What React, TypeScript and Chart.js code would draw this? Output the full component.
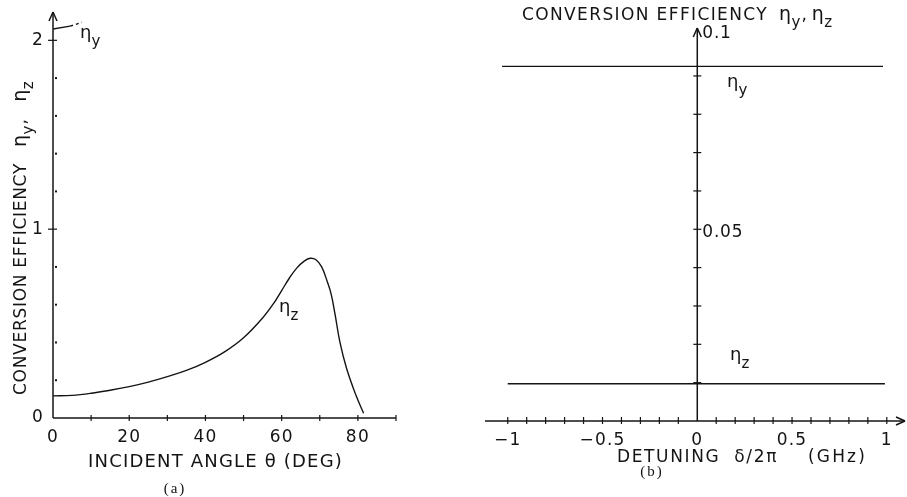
import React, { useEffect, useRef } from "react";
import { Chart, registerables } from "chart.js";

Chart.register(...registerables);

// ---------- Panel (a): conversion efficiency vs incident angle ----------
const incidentAngle = [0, 5, 10, 15, 20, 25, 30, 35, 40, 45, 50, 55, 58, 60, 62, 64, 66, 67.5, 69, 70.5, 72, 73, 74, 75.3, 77, 79.5, 81.5];
const etaZvsAngle = [0.117, 0.12, 0.131, 0.147, 0.166, 0.19, 0.219, 0.252, 0.295, 0.35, 0.425, 0.53, 0.61, 0.675, 0.74, 0.795, 0.832, 0.846, 0.838, 0.8, 0.72, 0.655, 0.55, 0.4, 0.265, 0.12, 0.025];
const etaYAngleSolid = [0, 4.5];
const etaYSolid = [2.06, 2.075];
const etaYAngleDotted = [4.5, 7.6];
const etaYDotted = [2.075, 2.095];
const angleTickLabels = [0, 20, 40, 60, 80];
const angleMinorTicks = [10, 20, 30, 40, 50, 60, 70, 80, 90];
const effTickLabels = [0, 1, 2];
const effMinorTicks = [0.2, 0.4, 0.6, 0.8, 1.2, 1.4, 1.6, 1.8];

// ---------- Panel (b): conversion efficiency vs detuning ----------
const detuningY = [-1.03, 0.98];
const etaYvsDetuning = [0.0925, 0.0925];
const detuningZ = [-1.0, 0.99];
const etaZvsDetuning = [0.0097, 0.0097];
const detuningTickValues = [-1, -0.5, 0, 0.5, 1];
const detuningTickLabels = ["\u22121", "\u22120.5", "0", "0.5", "1"];
const detuningMinorTicks = [-1, -0.9, -0.8, -0.7, -0.6, -0.5, -0.4, -0.3, -0.2, -0.1, 0.1, 0.2, 0.3, 0.4, 0.5, 0.6, 0.7, 0.8, 0.9, 1];
const effBTickValues = [0.05, 0.1];
const effBTickLabels = ["0.05", "0.1"];
const effBMinorTicks = [0.01, 0.02, 0.03, 0.04, 0.05, 0.06, 0.07, 0.08, 0.09];

const FONT = "'DejaVu Sans'";
const INK = "#141414";

type Seg = { t: string; size: number; dy?: number; family?: string; sp?: number };

function drawRich(ctx: CanvasRenderingContext2D, segs: Seg[], x: number, y: number, align: "left" | "center" | "right", spacing: number, fitWidth?: number) {
  ctx.save();
  ctx.fillStyle = INK;
  ctx.textAlign = "left";
  ctx.textBaseline = "alphabetic";
  const measure = (sp: number) => {
    const ws: number[] = [];
    let tot = 0;
    for (const s of segs) {
      ctx.font = `${s.size}px ${s.family ?? FONT}`;
      (ctx as any).letterSpacing = `${s.sp ?? sp}px`;
      const w = ctx.measureText(s.t).width;
      ws.push(w);
      tot += w;
    }
    return { ws, tot };
  };
  let sp = spacing;
  if (fitWidth !== undefined) {
    const base = measure(0);
    const n = segs.reduce((a, s) => a + s.t.length, 0);
    sp = Math.max(0, (fitWidth - base.tot) / n);
  }
  const { ws, tot } = measure(sp);
  let cx = align === "left" ? x : align === "center" ? x - tot / 2 : x - tot;
  segs.forEach((s, i) => {
    ctx.font = `${s.size}px ${s.family ?? FONT}`;
    (ctx as any).letterSpacing = `${s.sp ?? sp}px`;
    ctx.fillText(s.t, cx, y + (s.dy ?? 0));
    cx += ws[i];
  });
  ctx.restore();
}

function line(ctx: CanvasRenderingContext2D, x1: number, y1: number, x2: number, y2: number) {
  ctx.beginPath();
  ctx.moveTo(x1, y1);
  ctx.lineTo(x2, y2);
  ctx.stroke();
}

function label(ctx: CanvasRenderingContext2D, text: string, x: number, y: number, align: CanvasTextAlign, baseline: CanvasTextBaseline, size = 16, spacing = 1.2) {
  ctx.save();
  ctx.fillStyle = INK;
  ctx.font = `${size}px ${FONT}`;
  (ctx as any).letterSpacing = `${spacing}px`;
  ctx.textAlign = align;
  ctx.textBaseline = baseline;
  ctx.fillText(text, x, y);
  ctx.restore();
}

const eta = (sub: string): Seg[] => [
  { t: "\u03b7", size: 18 },
  { t: sub, size: 15, dy: 8 },
];

const etaPair = (sep: string, gap: number): Seg[] => [
  { t: "\u03b7", size: 19, sp: 0.5 },
  { t: "y", size: 15, dy: 7, sp: 1 },
  { t: sep, size: 17, sp: gap },
  { t: "\u03b7", size: 19, sp: 0.5 },
  { t: "z", size: 15, dy: 7, sp: 1 },
];

const leftDecor = {
  id: "leftDecor",
  afterDatasetsDraw(chart: any) {
    const { ctx, scales } = chart;
    const x = scales.x, y = scales.y;
    const x0 = x.getPixelForValue(0);
    const y0 = y.getPixelForValue(0);
    ctx.save();
    ctx.strokeStyle = INK;
    ctx.lineWidth = 1.5;
    line(ctx, x0, y0, x.getPixelForValue(90), y0);
    line(ctx, x0, y0, x0, y.top);
    line(ctx, x0, y.top, x0 - 4, y.top + 9);
    line(ctx, x0, y.top, x0 + 4, y.top + 9);
    ctx.lineWidth = 1.2;
    for (const v of angleMinorTicks) {
      const px = x.getPixelForValue(v);
      line(ctx, px, y0 - 3, px, y0 + 3);
    }
    for (const v of effTickLabels) {
      if (v === 0) continue;
      const py = y.getPixelForValue(v);
      line(ctx, x0 - 5, py, x0 + 4, py);
    }
    ctx.fillStyle = INK;
    for (const v of effMinorTicks) {
      const py = y.getPixelForValue(v);
      ctx.fillRect(x0 + 2, py - 1, 2, 2);
    }
    ctx.restore();
    for (const v of angleTickLabels) {
      label(ctx, String(v), x.getPixelForValue(v), 442, "center", "alphabetic", 17);
    }
    for (const v of effTickLabels) {
      label(ctx, String(v), x0 - 9, y.getPixelForValue(v), "right", "middle", 17);
    }
    drawRich(ctx, eta("y"), 80, 38, "left", 0);
    drawRich(ctx, eta("z"), 279, 312, "left", 0);
    drawRich(ctx, [{ t: "INCIDENT ANGLE \u03b8 (DEG)", size: 18 }], 88, 467, "left", 0, 255);
    drawRich(ctx, [{ t: "(a)", size: 15, family: "'Liberation Serif'" }], 175, 493, "center", 2);
    ctx.save();
    ctx.translate(26, 395);
    ctx.rotate(-Math.PI / 2);
    drawRich(ctx, [{ t: "CONVERSION EFFICIENCY", size: 17 }], 0, 0, "left", 0, 232);
    drawRich(ctx, etaPair(", ", 6), 248, 0, "left", 0);
    ctx.restore();
  },
};

const rightDecor = {
  id: "rightDecor",
  afterDatasetsDraw(chart: any) {
    const { ctx, scales } = chart;
    const x = scales.x, y = scales.y;
    const x0 = x.getPixelForValue(0);
    const y0 = y.getPixelForValue(0);
    const off = 453;
    ctx.save();
    ctx.strokeStyle = INK;
    ctx.lineWidth = 1.5;
    line(ctx, x.left, y0, x.right, y0);
    line(ctx, x0, y0, x0, y.top);
    line(ctx, x0, y.top, x0 - 4, y.top + 9);
    line(ctx, x0, y.top, x0 + 4, y.top + 9);
    line(ctx, x.right, y0, x.right - 9, y0 - 4);
    line(ctx, x.right, y0, x.right - 9, y0 + 4);
    ctx.lineWidth = 1.2;
    for (const v of detuningMinorTicks) {
      const px = x.getPixelForValue(v);
      line(ctx, px, y0 - 4, px, y0 + 3);
    }
    for (const v of effBMinorTicks) {
      const py = y.getPixelForValue(v);
      line(ctx, x0 - 4, py, x0 + 4, py);
    }
    ctx.restore();
    detuningTickValues.forEach((v, i) => {
      label(ctx, detuningTickLabels[i], x.getPixelForValue(v), 445, "center", "alphabetic", 17);
    });
    effBTickValues.forEach((v, i) => {
      label(ctx, effBTickLabels[i], x0 + 5, y.getPixelForValue(v) + (v === 0.1 ? -4 : 3), "left", "middle", 17, 0.8);
    });
    drawRich(ctx, eta("y"), 727 - off, 87, "left", 0);
    drawRich(ctx, eta("z"), 730 - off, 360, "left", 0);
    drawRich(ctx, [{ t: "DETUNING  \u03b4/2\u03c0", size: 17 }], 617 - off, 462, "left", 0, 161);
    drawRich(ctx, [{ t: "(GHz)", size: 17 }], 808 - off, 462, "left", 0, 59);
    drawRich(ctx, [{ t: "(b)", size: 15, family: "'Liberation Serif'" }], 652 - off, 476, "center", 2);
    drawRich(ctx, [{ t: "CONVERSION EFFICIENCY", size: 17 }], 522 - off, 20, "left", 0, 246);
    drawRich(ctx, etaPair(",", 5), 779 - off, 20, "left", 0);
  },
};

const pts = (xs: number[], ys: number[]) => xs.map((v, i) => ({ x: v, y: ys[i] }));

function LeftPanel() {
  const ref = useRef<HTMLCanvasElement>(null);
  useEffect(() => {
    const chart = new Chart(ref.current!, {
      type: "line",
      data: {
        datasets: [
          { data: pts(incidentAngle, etaZvsAngle), borderColor: INK, borderWidth: 1.4, pointRadius: 0, tension: 0.4, fill: false },
          { data: pts(etaYAngleSolid, etaYSolid), borderColor: INK, borderWidth: 1.4, pointRadius: 0, fill: false },
          { data: pts(etaYAngleDotted, etaYDotted), borderColor: INK, borderWidth: 1.4, pointRadius: 0, borderDash: [3, 3], fill: false },
        ],
      } as any,
      options: {
        animation: false,
        responsive: false,
        devicePixelRatio: 1,
        events: [],
        layout: { padding: { left: 53, right: 57, top: 12, bottom: 79 } },
        plugins: { legend: { display: false }, tooltip: { enabled: false } },
        scales: {
          x: { type: "linear", min: 0, max: 90, display: false },
          y: { type: "linear", min: 0, max: 2.15, display: false },
        },
      } as any,
      plugins: [leftDecor],
    });
    return () => chart.destroy();
  }, []);
  return <canvas ref={ref} width={453} height={497} style={{ position: "absolute", left: 0, top: 0, width: 453, height: 497 }} />;
}

function RightPanel() {
  const ref = useRef<HTMLCanvasElement>(null);
  useEffect(() => {
    const chart = new Chart(ref.current!, {
      type: "line",
      data: {
        datasets: [
          { data: pts(detuningY, etaYvsDetuning), borderColor: INK, borderWidth: 1.4, pointRadius: 0, fill: false },
          { data: pts(detuningZ, etaZvsDetuning), borderColor: INK, borderWidth: 1.4, pointRadius: 0, fill: false },
        ],
      } as any,
      options: {
        animation: false,
        responsive: false,
        devicePixelRatio: 1,
        events: [],
        layout: { padding: { left: 32, right: 2, top: 28, bottom: 76 } },
        plugins: { legend: { display: false }, tooltip: { enabled: false } },
        scales: {
          x: { type: "linear", min: -1.12, max: 1.096, display: false },
          y: { type: "linear", min: 0, max: 0.1025, display: false },
        },
      } as any,
      plugins: [rightDecor],
    });
    return () => chart.destroy();
  }, []);
  return <canvas ref={ref} width={454} height={497} style={{ position: "absolute", left: 453, top: 0, width: 454, height: 497 }} />;
}

export default function App() {
  return (
    <div style={{ position: "absolute", left: 0, top: 0, width: 907, height: 497, background: "#fff", overflow: "hidden" }}>
      <LeftPanel />
      <RightPanel />
    </div>
  );
}
